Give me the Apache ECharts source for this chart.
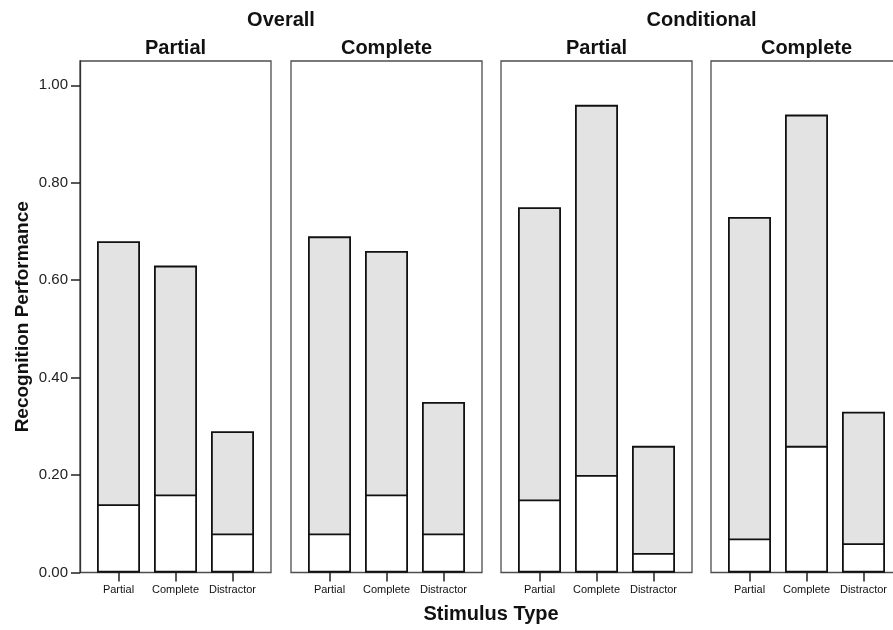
<!DOCTYPE html>
<html>
<head>
<meta charset="utf-8">
<script src="https://cdn.jsdelivr.net/npm/echarts@6/dist/echarts.min.js"></script>
<style>
  html, body { margin: 0; padding: 0; background: #fff; }
  #chart { width: 893px; height: 630px; }
</style>
</head>
<body>
<div id="chart"></div>
<script>
// Stimulus categories along each panel's x axis
const categories = ['Partial', 'Complete', 'Distractor'];
// Panel headings: outer group and inner condition
const groupTitles = ['Overall', 'Conditional'];
const panelTitles = ['Partial', 'Complete', 'Partial', 'Complete'];
// Bar heights (grey total) and the lower white portion, per panel
const totals = [
  [0.68, 0.63, 0.29],
  [0.69, 0.66, 0.35],
  [0.75, 0.96, 0.26],
  [0.73, 0.94, 0.33]
];
const lowers = [
  [0.14, 0.16, 0.08],
  [0.08, 0.16, 0.08],
  [0.15, 0.20, 0.04],
  [0.07, 0.26, 0.06]
];
// Y tick values
const yTicks = [0, 0.2, 0.4, 0.6, 0.8, 1.0];

const FONT = '"Liberation Sans", Arial, Helvetica, sans-serif';
const CHART_W = 893;
const panelLeft = [80, 291, 501, 711];
const panelWidth = 191;
const innerPad = 10;
const TOP = 61, BOTTOM = 630 - 572.5;
const YMAX = 1.05;

const grid = [], xAxis = [], yAxis = [], series = [];

panelLeft.forEach((left, i) => {
  const right = CHART_W - left - panelWidth;
  // frame grid for the panel box (and the shared y axis on the first panel);
  // the last panel runs past the right edge of the canvas
  grid.push({
    left: left, right: right, top: TOP, bottom: BOTTOM,
    outerBoundsMode: 'none', containLabel: false,
    show: true, borderColor: '#4d4d4d', borderWidth: 1.3, backgroundColor: 'transparent'
  });
  xAxis.push({ type: 'value', gridIndex: grid.length - 1, show: false, min: 0, max: 1 });
  yAxis.push({
    type: 'value', gridIndex: grid.length - 1, min: 0, max: YMAX,
    show: i === 0,
    axisLine: { show: true, lineStyle: { color: '#333', width: 1.3 } },
    axisTick: { show: true, inside: false, length: 9, customValues: yTicks, lineStyle: { color: '#222', width: 1.5 } },
    axisLabel: {
      customValues: yTicks, margin: 12,
      formatter: v => v.toFixed(2),
      fontFamily: FONT, fontSize: 15, color: '#222'
    },
    splitLine: { show: false },
    name: 'Recognition Performance',
    nameLocation: 'middle', nameGap: 48,
    nameTextStyle: { fontFamily: FONT, fontSize: 19, fontWeight: 'bold', color: '#111' }
  });

  // bar grid inside the panel
  const gi = grid.length;
  grid.push({
    left: left + innerPad, right: right + innerPad, top: TOP, bottom: BOTTOM,
    outerBoundsMode: 'none', containLabel: false
  });
  xAxis.push({
    type: 'category', gridIndex: gi, data: categories,
    axisLine: { show: false },
    axisTick: { show: true, inside: false, alignWithLabel: true, length: 9, lineStyle: { color: '#222', width: 1.5 } },
    axisLabel: { margin: 12, fontFamily: FONT, fontSize: 11, color: '#111', interval: 0 }
  });
  yAxis.push({ type: 'value', gridIndex: gi, min: 0, max: YMAX, show: false, splitLine: { show: false } });

  series.push({
    type: 'bar', xAxisIndex: gi, yAxisIndex: gi,
    data: totals[i], barWidth: 43, barGap: '-100%',
    itemStyle: { color: '#e3e3e3', borderColor: '#111', borderWidth: 1.8 },
    silent: true
  });
  series.push({
    type: 'bar', xAxisIndex: gi, yAxisIndex: gi,
    data: lowers[i], barWidth: 43, barGap: '-100%',
    itemStyle: { color: '#ffffff', borderColor: '#111', borderWidth: 1.8 },
    silent: true
  });
});

const headStyle = { fontFamily: FONT, fontSize: 20, fontWeight: 'bold', fill: '#111', textAlign: 'center', textVerticalAlign: 'middle' };
const graphic = [];
groupTitles.forEach((t, g) => {
  const x = (panelLeft[2 * g] + panelLeft[2 * g + 1] + panelWidth) / 2;
  graphic.push({ type: 'text', x: x, y: 20, style: Object.assign({ text: t }, headStyle) });
});
panelTitles.forEach((t, i) => {
  graphic.push({ type: 'text', x: panelLeft[i] + panelWidth / 2, y: 48, style: Object.assign({ text: t }, headStyle) });
});
graphic.push({ type: 'text', x: 491, y: 614, style: Object.assign({ text: 'Stimulus Type' }, headStyle) });

const chart = echarts.init(document.getElementById('chart'), null, { renderer: 'canvas' });
chart.setOption({
  animation: false,
  backgroundColor: '#ffffff',
  grid, xAxis, yAxis, series, graphic
});
</script>
</body>
</html>
